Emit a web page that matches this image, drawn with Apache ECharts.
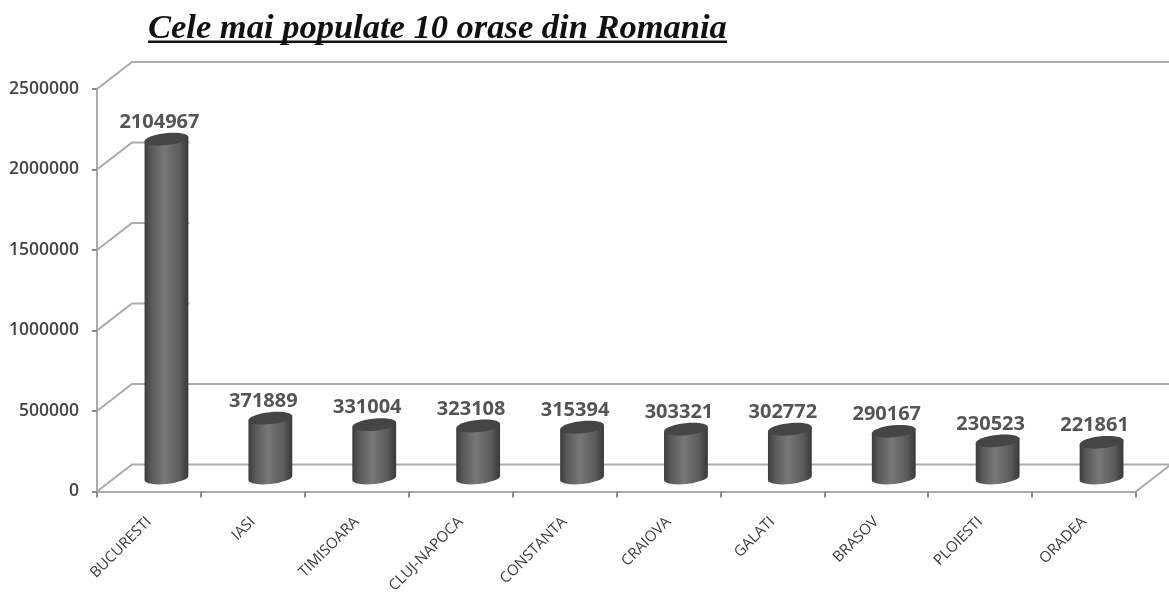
<!DOCTYPE html>
<html><head><meta charset="utf-8">
<style>html,body{margin:0;padding:0;background:#fff}#c{width:1169px;height:600px;filter:blur(0.6px)}</style>
<script src="https://cdn.jsdelivr.net/npm/echarts@6/dist/echarts.min.js"></script>
</head><body><div id="c"></div>
<script>
const titleText = 'Cele mai populate 10 orase din Romania';
const categories = ['BUCURESTI','IASI','TIMISOARA','CLUJ-NAPOCA','CONSTANTA','CRAIOVA','GALATI','BRASOV','PLOIESTI','ORADEA'];
const population = [2104967,371889,331004,323108,315394,303321,302772,290167,230523,221861];
const yTicks = [0,500000,1000000,1500000,2000000,2500000];
const shortTicks = [1000000,1500000,2000000];

const depthX = 35, depthY = 27, lineColor = '#ababab';
const chart = echarts.init(document.getElementById('c'), null, {renderer:'canvas'});

function wallLine(params, api){
  const v = api.value(0);
  const cs = params.coordSys;
  const y = api.coord([0, v])[1];
  const left = cs.x, right = cs.x + cs.width;
  const col = api.size([1,0])[0];
  const endX = shortTicks.includes(v) ? left + col*0.5 + depthX/2 + col*0.22 : right + depthX;
  const style = {stroke: lineColor, lineWidth: 2, fill: null};
  const children = [
    {type:'polyline', shape:{points:[[left,y],[left+depthX,y-depthY],[endX,y-depthY]]}, style}
  ];
  if (v === 0) children.push({type:'line', shape:{x1:right,y1:y,x2:right+depthX,y2:y-depthY}, style});
  return {type:'group', children};
}

function cylinder(params, api){
  const i = api.value(0), v = api.value(1);
  const top = api.coord([i, v]), base = api.coord([i, 0]);
  const cx = top[0] + depthX/2, ty = top[1] - depthY/2, by = base[1] - depthY/2;
  const rx = api.size([1,0])[0]*0.212, ry = 6, tilt = 6;
  const dx = rx*Math.cos(tilt*Math.PI/180), dy = rx*Math.sin(tilt*Math.PI/180);
  const body = `M ${cx-dx} ${ty+dy} L ${cx+dx} ${ty-dy} L ${cx+dx} ${by-dy} A ${rx} ${ry} ${-tilt} 0 1 ${cx-dx} ${by+dy} Z`;
  return {type:'group', children:[
    {type:'path', shape:{pathData:body}, style:{
      fill:new echarts.graphic.LinearGradient(0,0,1,0,[
        {offset:0,color:'#3c3c3c'},{offset:0.15,color:'#585858'},{offset:0.45,color:'#787878'},
        {offset:0.8,color:'#5a5a5a'},{offset:1,color:'#383838'}])}},
    {type:'ellipse', shape:{cx:0,cy:0,rx:rx,ry:ry}, x:cx, y:ty, rotation:tilt*Math.PI/180,
      style:{fill:'#454545'}},
    {type:'text', x:cx-7, y:ty-17, style:{text:String(v), align:'center', verticalAlign:'middle',
      fill:'#555', font:'bold 20px "Open Sans"'}}
  ]};
}

chart.setOption({
  animation:false,
  backgroundColor:'#fff',
  title:{text:titleText,left:143,top:7,textStyle:{fontFamily:'Liberation Serif',fontStyle:'italic',fontWeight:'bold',fontSize:34.5,color:'#111'}},
  graphic:[{type:'rect',shape:{x:148,y:40.5,width:579,height:2.5},style:{fill:'#111'}}],
  grid:{left:97,right:33,top:89,bottom:108.5,containLabel:false},
  xAxis:{type:'category',data:categories,boundaryGap:true,
    axisLine:{lineStyle:{color:lineColor,width:2}},
    axisTick:{show:true,length:6,lineStyle:{color:'#8a8a8a',width:2}},
    axisLabel:{interval:0,rotate:45,margin:28,color:'#3c3c3c',fontFamily:'Open Sans',fontSize:15,hideOverlap:false},
    splitLine:{show:false}},
  yAxis:{type:'value',min:0,max:2500000,interval:500000,
    axisLine:{show:true,lineStyle:{color:lineColor,width:2}},
    axisTick:{show:true,length:5,lineStyle:{color:'#8a8a8a',width:2}},
    axisLabel:{margin:18,color:'#444',fontFamily:'Open Sans',fontWeight:600,fontSize:17.5,formatter:v=>String(v)},
    splitLine:{show:false}},
  series:[
    {type:'custom',renderItem:wallLine,data:yTicks.map(v=>[v]),encode:{y:0},clip:false,silent:true,z:1},
    {type:'custom',renderItem:cylinder,data:population.map((v,i)=>[i,v]),encode:{x:0,y:1},clip:false,z:2}
  ]
});
</script></body></html>
